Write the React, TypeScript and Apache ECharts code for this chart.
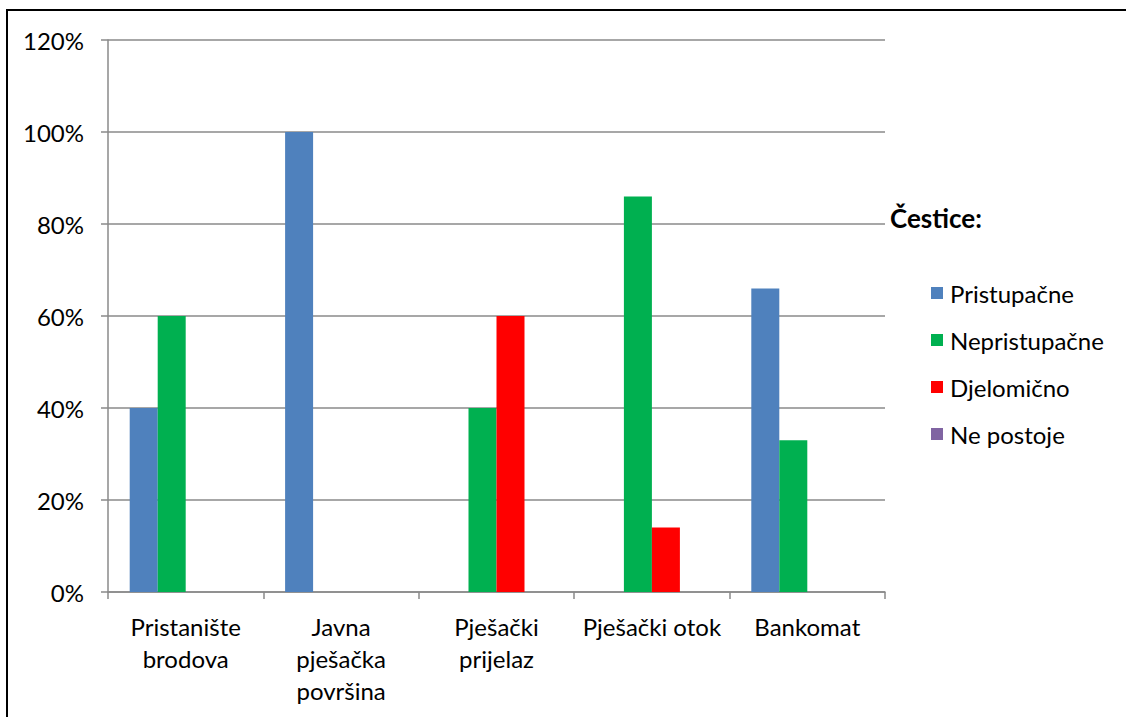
import React, { useEffect, useRef } from "react";
import * as echarts from "echarts";

const categories = [
  "Pristanište\nbrodova",
  "Javna\npješačka\npovršina",
  "Pješački\nprijelaz",
  "Pješački otok",
  "Bankomat",
];
const seriesNames = ["Pristupačne", "Nepristupačne", "Djelomično", "Ne postoje"];
const pristupacne = [0.4, 1.0, 0, 0, 0.66];
const nepristupacne = [0.6, 0, 0.4, 0.86, 0.33];
const djelomicno = [0, 0, 0.6, 0.14, 0];
const nePostoje = [0, 0, 0, 0, 0];
const yTicks = [0, 0.2, 0.4, 0.6, 0.8, 1.0, 1.2];
const legendTitle = "Čestice:";

const colors = ["#4F81BD", "#00B050", "#FF0000", "#8064A2"];
const FONT = "Lato, 'Open Sans', sans-serif";
const GRID = "#8a8a8a";
const FS = 24;

export default function App() {
  const ref = useRef<HTMLDivElement>(null);
  useEffect(() => {
    if (!ref.current) return;
    const chart = echarts.init(ref.current, null, { renderer: "svg" });
    const values = [pristupacne, nepristupacne, djelomicno, nePostoje];
    chart.setOption({
      animation: false,
      backgroundColor: "#ffffff",
      textStyle: { fontFamily: FONT, color: "#000" },
      grid: { left: 108, top: 40, width: 777, height: 552, containLabel: false },
      title: {
        text: legendTitle,
        left: 885,
        top: 200,
        textStyle: { fontFamily: FONT, fontSize: 26, fontWeight: "bold", color: "#000", lineHeight: 26 },
      },
      legend: {
        orient: "vertical",
        left: 926,
        top: 276,
        itemWidth: 12,
        itemHeight: 12,
        itemGap: 23,
        icon: "rect",
        data: seriesNames,
        textStyle: { fontFamily: FONT, fontSize: FS, lineHeight: 24, color: "#000", padding: [0, 0, 0, 2] },
      },
      xAxis: {
        type: "category",
        data: categories,
        axisLine: { show: true, lineStyle: { color: GRID, width: 1.5 } },
        axisTick: { show: true, alignWithLabel: false, length: 7, lineStyle: { color: GRID, width: 1.5 } },
        axisLabel: {
          interval: 0,
          margin: 18,
          fontFamily: FONT,
          fontSize: FS,
          color: "#000",
          lineHeight: 32,
          align: "center",
        },
      },
      yAxis: {
        type: "value",
        min: 0,
        max: 1.2,
        interval: 0.2,
        axisLine: { show: true, lineStyle: { color: GRID, width: 1.5 } },
        axisTick: { show: true, length: 7, lineStyle: { color: GRID, width: 1.5 } },
        splitLine: { show: true, lineStyle: { color: GRID, width: 1.5 } },
        axisLabel: {
          margin: 24,
          fontFamily: FONT,
          fontSize: FS,
          color: "#000",
          formatter: (v: number) => {
            const found = yTicks.find((t) => Math.abs(t - v) < 1e-6);
            return Math.round((found ?? v) * 100) + "%";
          },
        },
      },
      series: seriesNames.map((name, i) => ({
        name,
        type: "bar",
        data: values[i],
        barWidth: 28,
        barGap: "0%",
        itemStyle: { color: colors[i] },
      })),
      graphic: [
        {
          type: "rect",
          shape: { x: 7, y: 10, width: 1130, height: 740 },
          style: { fill: "none", stroke: "#000", lineWidth: 2 },
          silent: true,
          z: 100,
        },
      ],
    });
    return () => chart.dispose();
  }, []);
  return (
    <div
      ref={ref}
      style={{ position: "fixed", left: 0, top: 0, width: 1126, height: 717, background: "#fff" }}
    />
  );
}
